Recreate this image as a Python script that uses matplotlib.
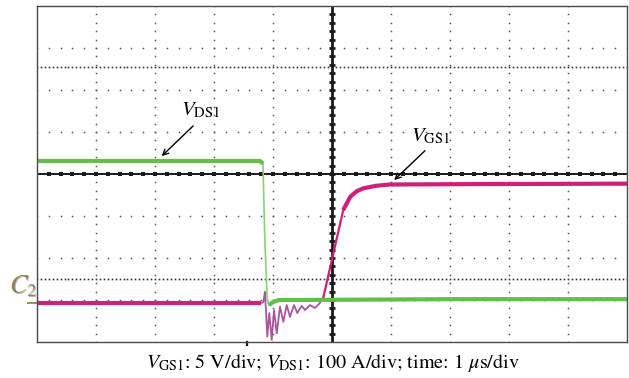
import numpy as np
import matplotlib
matplotlib.use("Agg")
import matplotlib.pyplot as plt

plt.rcParams['font.family'] = ['STIXGeneral', 'DejaVu Serif']
plt.rcParams['mathtext.fontset'] = 'stix'

# scope traces, time and level both in screen divisions (10 x 8, origin lower left / centre)
vds_t = [0.0, 3.78, 3.83, 3.86, 3.90, 3.93, 4.00, 4.10, 4.40, 7.00, 10.0]
vds_v = [0.31, 0.31, 0.25, -1.50, -2.95, -3.12, -3.05, -3.00, -3.00, -2.98, -2.98]

vgs_t = [0.0, 3.80, 3.836, 3.864, 3.903, 3.937, 3.978, 4.017, 4.063, 4.119, 4.175,
         4.232, 4.288, 4.356, 4.412, 4.486, 4.542, 4.627, 4.712, 4.797, 4.853,
         5.01, 5.19, 5.31, 5.42, 5.53, 5.75, 5.98, 7.50, 10.0]
vgs_v = [-3.07, -3.07, -3.05, -2.80, -3.87, -3.31, -3.95, -3.24, -3.79, -3.16, -3.52,
         -3.12, -3.40, -3.12, -3.31, -3.14, -3.24, -3.12, -3.19, -3.07, -2.94,
         -1.97, -0.86, -0.54, -0.41, -0.34, -0.28, -0.25, -0.24, -0.23]

green = '#62bf4a'
magenta = '#cf2079'
purple = '#a8569e'

fig = plt.figure(figsize=(6.29, 3.78), dpi=100)
ax = fig.add_axes([37 / 629, 36 / 378, 590 / 629, 336 / 378])
ax.set_xlim(0, 10)
ax.set_ylim(-4, 4)
ax.set_xticks([])
ax.set_yticks([])
for s in ax.spines.values():
    s.set_color('#4a4a4a')
    s.set_linewidth(1.0)

# dotted graticule
for gx in [1, 2, 3, 4, 6, 7, 8, 9]:
    yy = np.arange(-4, 4.01, 0.2)
    ax.plot(np.full_like(yy, gx), yy, ls='none', marker='s', ms=1.1, color='#555555', mew=0)
for gy in [-3, -2, -1, 1, 2, 3]:
    xx = np.arange(0, 10.01, 0.2)
    ax.plot(xx, np.full_like(xx, gy), ls='none', marker='s', ms=1.1, color='#555555', mew=0)
# cursor lines
for cy in [2.55, -2.5]:
    xx = np.arange(0, 10.01, 1 / 15)
    ax.plot(xx, np.full_like(xx, cy), ls='none', marker='s', ms=1.2, color='#333333', mew=0)

# centre axes with minor ticks
ax.axhline(0, color='#1a1a1a', lw=1.4)
ax.axvline(5, color='#1a1a1a', lw=2.0)
tx = np.arange(0.2, 10, 0.2)
ax.plot(tx, np.zeros_like(tx), ls='none', marker='s', ms=2.6, mew=0, color='#1a1a1a')
ty = np.arange(-3.8, 4, 0.2)
ax.plot(np.full_like(ty, 5), ty, ls='none', marker='_', ms=4.5, mew=2.0, color='#1a1a1a')

# V_GS1: ringing in purple, flat parts thick
vgs_t = np.array(vgs_t)
vgs_v = np.array(vgs_v)
ax.plot(vgs_t[1:21], vgs_v[1:21], color=purple, lw=1.3)
ax.plot(vgs_t[20:], vgs_v[20:], color=magenta, lw=1.6)
ax.plot(vgs_t[:2], vgs_v[:2], color=magenta, lw=3.0, solid_capstyle='butt')
ax.plot(vgs_t[22:], vgs_v[22:], color=magenta, lw=3.0, solid_capstyle='butt')

# V_DS1
vds_t = np.array(vds_t)
vds_v = np.array(vds_v)
ax.plot(vds_t[1:6], vds_v[1:6], color='#86d172', lw=1.2)
ax.plot(vds_t[:3], vds_v[:3], color=green, lw=3.0, solid_capstyle='butt')
ax.plot(vds_t[5:], vds_v[5:], color=green, lw=3.0, solid_capstyle='butt')

# labels with arrows
ax.text(2.78, 1.52, r'$V_{\mathrm{DS1}}$', fontsize=15, ha='center', va='center')
ax.annotate('', xy=(2.08, 0.38), xytext=(2.68, 1.19),
            arrowprops=dict(arrowstyle='->', color='black', lw=1.0))
ax.text(6.68, 0.90, r'$V_{\mathrm{GS1}}$', fontsize=15, ha='center', va='center')
ax.annotate('', xy=(6.02, -0.19), xytext=(6.61, 0.60),
            arrowprops=dict(arrowstyle='->', color='black', lw=1.0))

# channel marker and trigger position
ax.text(-0.24, -2.68, r'$C_2$', fontsize=19, color='#8a9a3a', ha='center', va='center', clip_on=False)
ax.text(-0.22, -2.71, r'$C_2$', fontsize=19, color='#9a4f8f', alpha=0.5, ha='center', va='center', clip_on=False)
ax.plot([-0.15, 0.0], [-3.07, -3.07], color='#8a9a3a', lw=1.4, clip_on=False)
ax.plot([3.56, 3.56], [-4.0, -4.08], color='#1a1a1a', lw=1.6, clip_on=False)

fig.text(333 / 629, 1 - 363 / 378,
         r'$V_{\mathrm{GS1}}$: 5 V/div; $V_{\mathrm{DS1}}$: 100 A/div; time: 1 $\mu$s/div',
         fontsize=14.5, ha='center', va='center')

fig.savefig('out.png', dpi=100)
